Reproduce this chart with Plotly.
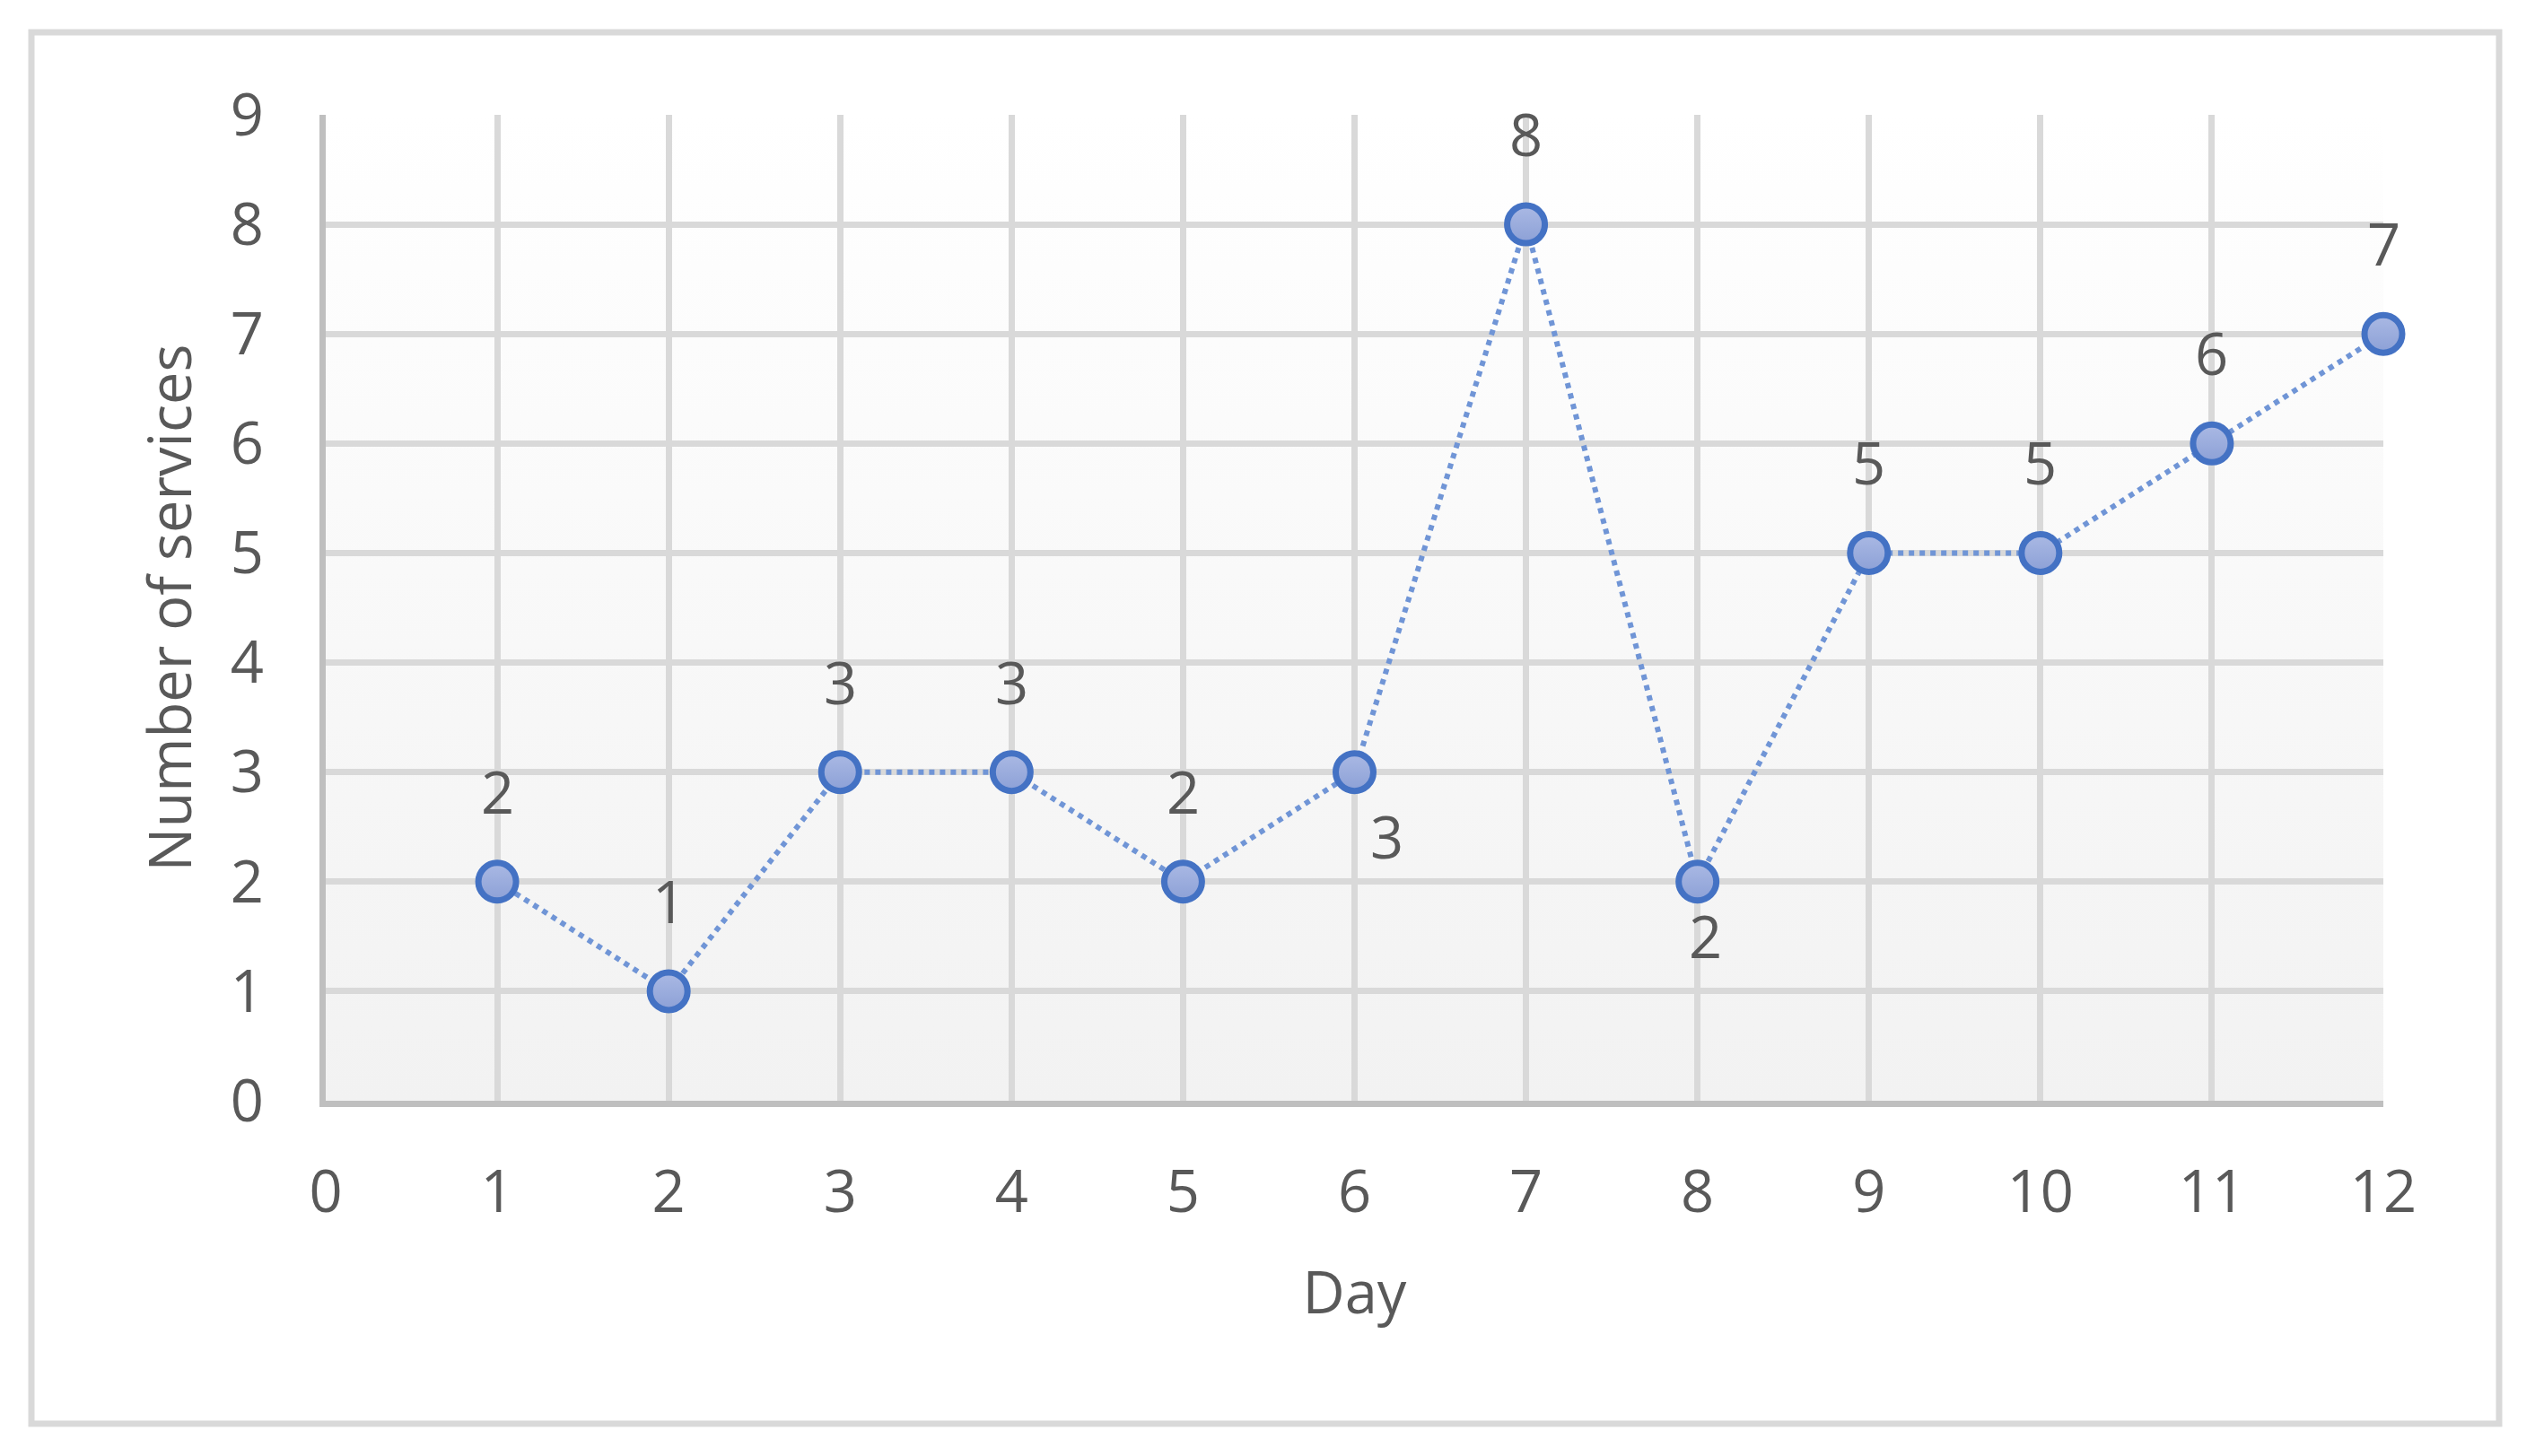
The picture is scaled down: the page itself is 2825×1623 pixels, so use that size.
import base64
import plotly.graph_objects as go

# ---- data ----
days = [1, 2, 3, 4, 5, 6, 7, 8, 9, 10, 11, 12]
services = [2, 1, 3, 3, 2, 3, 8, 2, 5, 5, 6, 7]
x_ticks = list(range(0, 13))
y_ticks = list(range(0, 10))
x_title = "Day"
y_title = "Number of services"

# ---- geometry / style ----
OFF = 8                                       # browser body margin
W, H = 2825 - OFF, 1623 - OFF
L, R, T, B = 363 - OFF, 2656 - OFF, 128 - OFF, 1227 - OFF   # plot area
PW, PH = R - L, B - T
FONT = "Open Sans"
TXT = "#595959"
FS = 65

# gradient background for plot area
svg = ('<svg xmlns="http://www.w3.org/2000/svg" viewBox="0 0 100 100" '
       'preserveAspectRatio="none" width="100" height="100">'
       '<defs><linearGradient id="g" x1="0" y1="0" x2="0" y2="1">'
       '<stop offset="0" stop-color="#FFFFFF"/><stop offset="1" stop-color="#F2F2F2"/>'
       '</linearGradient></defs><rect width="100" height="100" fill="url(#g)"/></svg>')
svg_uri = "data:image/svg+xml;base64," + base64.b64encode(svg.encode()).decode()

fig = go.Figure()
fig.add_trace(go.Scatter(
    x=days, y=services, mode="lines+markers",
    line=dict(color="#7095D6", width=6, dash="dot"),
    marker=dict(size=42, color="#AAB9E4",
                gradient=dict(type="vertical", color="#8CA0D6"),
                line=dict(color="#4472C4", width=7)),
    cliponaxis=False, showlegend=False, hoverinfo="skip",
))

# data labels
offsets = {"above": (0, 101), "below_right": (36, -71), "below": (9, -60)}
placement = {5: "below_right", 7: "below"}
annotations = []
for i, (d, v) in enumerate(zip(days, services)):
    dx, dy = offsets[placement.get(i, "above")]
    annotations.append(dict(
        x=d, y=v, xref="x", yref="y", text=str(v), showarrow=False,
        xshift=dx, yshift=dy, xanchor="center", yanchor="middle",
        font=dict(family=FONT, size=FS, color=TXT),
    ))

# outer chart border
bx0, by0, bx1, by1 = 35 - OFF, 36 - OFF, 2785 - OFF, 1587 - OFF
shapes = [dict(
    type="rect", xref="paper", yref="paper",
    x0=(bx0 - L) / PW, x1=(bx1 - L) / PW,
    y0=(B - by1) / PH, y1=(B - by0) / PH,
    line=dict(color="#D9D9D9", width=7), fillcolor="rgba(0,0,0,0)", layer="below",
)]

fig.update_layout(
    width=W, height=H, autosize=False,
    margin=dict(l=L, r=W - R, t=T, b=H - B, pad=0),
    paper_bgcolor="#FFFFFF", plot_bgcolor="#FFFFFF",
    font=dict(family=FONT, size=FS, color=TXT),
    annotations=annotations, shapes=shapes,
    images=[dict(source=svg_uri, xref="paper", yref="paper", x=0, y=1,
                 sizex=1, sizey=1, xanchor="left", yanchor="top",
                 sizing="stretch", layer="below")],
    xaxis=dict(
        range=[0, 12], tickmode="array", tickvals=x_ticks, ticktext=[str(t) for t in x_ticks],
        showgrid=True, gridcolor="#D9D9D9", gridwidth=7,
        showline=True, linecolor="#BFBFBF", linewidth=7, zeroline=False,
        ticks="", ticklabelstandoff=39,
        tickfont=dict(family=FONT, size=FS, color=TXT),
        title=dict(text=x_title, standoff=52, font=dict(family=FONT, size=FS, color=TXT)),
        fixedrange=True,
    ),
    yaxis=dict(
        range=[0, 9], tickmode="array", tickvals=y_ticks, ticktext=[str(t) for t in y_ticks],
        showgrid=True, gridcolor="#D9D9D9", gridwidth=7,
        showline=True, linecolor="#BFBFBF", linewidth=7, zeroline=False,
        ticks="", ticklabelstandoff=49,
        tickfont=dict(family=FONT, size=FS, color=TXT),
        title=dict(text=y_title, standoff=25, font=dict(family=FONT, size=FS, color=TXT)),
        fixedrange=True,
    ),
)

fig.write_html("out.html")
